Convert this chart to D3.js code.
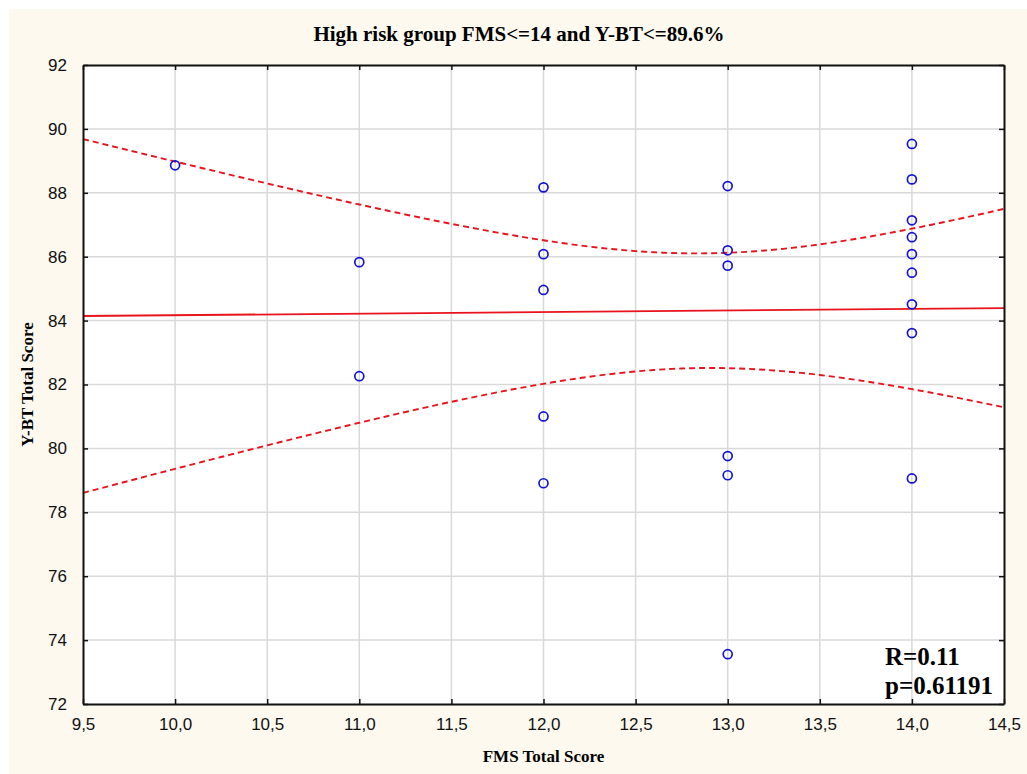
<!DOCTYPE html>
<html>
<head>
<meta charset="utf-8">
<script src="https://cdnjs.cloudflare.com/ajax/libs/d3/7.8.5/d3.min.js"></script>
<style>
    body { margin: 0; background: #fff; }
    svg { display: block; }
</style>
</head>
<body>
<div id="chart"></div>
<script>

// FMS score for each subject and its Y-BT total score
var fmsScores = [10,
    11, 11,
    12, 12, 12, 12, 12,
    13, 13, 13, 13, 13, 13,
    14, 14, 14, 14, 14, 14, 14, 14, 14];
var ybtScores = [88.86,
    85.83, 82.26,
    88.17, 86.08, 84.96, 81.0, 78.91,
    88.21, 86.2, 85.72, 79.76, 79.16, 73.56,
    89.53, 88.42, 87.14, 86.61, 86.08, 85.5, 84.51, 83.61, 79.06];

var xTicks = [9.5, 10, 10.5, 11, 11.5, 12, 12.5, 13, 13.5, 14, 14.5];
var yTicks = [72, 74, 76, 78, 80, 82, 84, 86, 88, 90, 92];
var statLines = ["R=0.11", "p=0.61191"];
var titleText = "High risk group FMS<=14 and Y-BT<=89.6%";

var width = 1027, height = 774;
var plot = {left: 83, right: 1004, top: 65, bottom: 704};

var svg = d3.select("#chart").append("svg")
    .attr("width", width)
    .attr("height", height);

// cream page background (thin white border on top/left)
svg.append("rect")
    .attr("x", 9).attr("y", 9)
    .attr("width", width - 9).attr("height", height - 9)
    .style("fill", "#fdf9ef");

var x = d3.scaleLinear().domain([9.5, 14.5]).range([plot.left, plot.right]);
var y = d3.scaleLinear().domain([72, 92]).range([plot.bottom, plot.top]);

svg.append("rect")
    .attr("x", plot.left).attr("y", plot.top)
    .attr("width", plot.right - plot.left).attr("height", plot.bottom - plot.top)
    .style("fill", "#fff");

// grid
svg.append("g").selectAll("line")
    .data(xTicks.slice(1, -1))
    .enter().append("line")
    .attr("x1", d => x(d)).attr("x2", d => x(d))
    .attr("y1", plot.top).attr("y2", plot.bottom)
    .style("stroke", "#d9d9d9").style("stroke-width", 1.5);
svg.append("g").selectAll("line")
    .data(yTicks.slice(1, -1))
    .enter().append("line")
    .attr("y1", d => y(d)).attr("y2", d => y(d))
    .attr("x1", plot.left).attr("x2", plot.right)
    .style("stroke", "#d9d9d9").style("stroke-width", 1.5);

/** linear fit + 95% confidence band of the mean, from the points **/
var n = fmsScores.length;
var mx = d3.mean(fmsScores), my = d3.mean(ybtScores);
var sxx = d3.sum(fmsScores, d => (d - mx) * (d - mx));
var sxy = d3.sum(fmsScores, (d, i) => (d - mx) * (ybtScores[i] - my));
var slope = sxy / sxx;
var icept = my - slope * mx;
var sse = d3.sum(fmsScores, (d, i) => Math.pow(ybtScores[i] - (icept + slope * d), 2));
var se = Math.sqrt(sse / (n - 2));
var tCrit = 2.0796;   // t(0.975, 21)

var xs = d3.range(0, 101).map(i => 9.5 + i * 0.05);
function band(sign) {
    return xs.map(function (xv) {
        var half = tCrit * se * Math.sqrt(1 / n + (xv - mx) * (xv - mx) / sxx);
        return [xv, icept + slope * xv + sign * half];
    });
}

var line = d3.line().x(d => x(d[0])).y(d => y(d[1]));
var red = "#e8131b";

svg.append("path")
    .attr("d", line([[9.5, icept + slope * 9.5], [14.5, icept + slope * 14.5]]))
    .style("fill", "none").style("stroke", red).style("stroke-width", 1.8);

[1, -1].forEach(function (s) {
    svg.append("path")
        .attr("d", line(band(s)))
        .style("fill", "none").style("stroke", red)
        .style("stroke-width", 1.9).style("stroke-dasharray", "6,4");
});

// points
svg.append("g").selectAll("circle")
    .data(fmsScores)
    .enter().append("circle")
    .attr("cx", d => x(d))
    .attr("cy", (d, i) => y(ybtScores[i]))
    .attr("r", 4.5)
    .style("fill", "none")
    .style("stroke", "#1414d8")
    .style("stroke-width", 1.7);

// frame with inward ticks on all sides
var fmt = d => d3.format(".1f")(d).replace(".", ",");
var tick = 5;
svg.append("g").attr("transform", "translate(0," + plot.bottom + ")")
    .call(d3.axisBottom(x).tickValues(xTicks).tickSizeInner(-tick).tickSizeOuter(0).tickFormat(fmt).tickPadding(14));
svg.append("g").attr("transform", "translate(0," + plot.top + ")")
    .call(d3.axisTop(x).tickValues(xTicks).tickSizeInner(-tick).tickSizeOuter(0).tickFormat(""));
svg.append("g").attr("transform", "translate(" + plot.left + ",0)")
    .call(d3.axisLeft(y).tickValues(yTicks).tickSizeInner(-tick).tickSizeOuter(0).tickPadding(16));
svg.append("g").attr("transform", "translate(" + plot.right + ",0)")
    .call(d3.axisRight(y).tickValues(yTicks).tickSizeInner(-tick).tickSizeOuter(0).tickFormat(""));

svg.selectAll(".domain").style("stroke", "#111").style("stroke-width", 2);
svg.selectAll(".tick line").style("stroke", "#111").style("stroke-width", 1.5);
svg.selectAll(".tick text")
    .style("font-family", "'Liberation Sans', Arial, sans-serif")
    .style("font-size", "17px")
    .style("fill", "#111");

var serif = "'Liberation Serif', 'Times New Roman', serif";

svg.append("text")
    .attr("x", 519).attr("y", 41)
    .attr("text-anchor", "middle")
    .style("font-family", serif).style("font-weight", "bold").style("font-size", "21px")
    .text(titleText);

svg.append("text")
    .attr("x", (plot.left + plot.right) / 2).attr("y", 762)
    .attr("text-anchor", "middle")
    .style("font-family", serif).style("font-weight", "bold").style("font-size", "17px")
    .text("FMS Total Score");

svg.append("text")
    .attr("transform", "translate(33," + (plot.top + plot.bottom) / 2 + ") rotate(-90)")
    .attr("text-anchor", "middle")
    .style("font-family", serif).style("font-weight", "bold").style("font-size", "17px")
    .text("Y-BT Total Score");

svg.append("g").selectAll("text")
    .data(statLines)
    .enter().append("text")
    .attr("x", 885)
    .attr("y", (d, i) => 665 + i * 29)
    .style("font-family", serif).style("font-weight", "bold").style("font-size", "25px")
    .text(d => d);

</script>
</body>
</html>
